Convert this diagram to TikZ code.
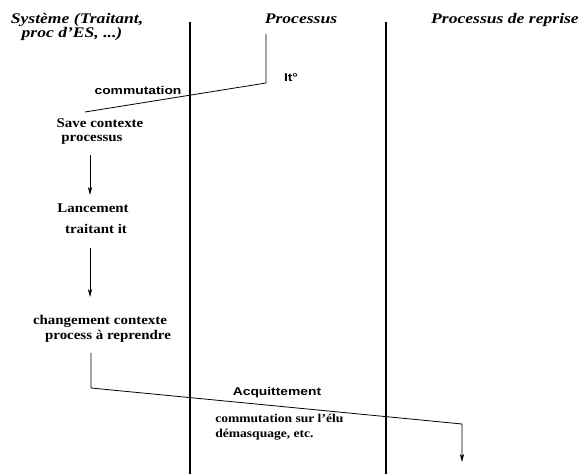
\documentclass[tikz,border=0pt]{standalone}
\usepackage{fontspec}
\setmainfont{Liberation Serif}
\setsansfont{Liberation Sans}
\usetikzlibrary{arrows.meta}

\begin{document}
\begin{tikzpicture}[x=0.75pt, y=-0.75pt,
    titre/.style={font=\bfseries\itshape\fontsize{11}{12}\selectfont, anchor=base, inner sep=0pt, xscale=1.2, transform shape},
    etape/.style={font=\bfseries\fontsize{10}{11}\selectfont, anchor=base, inner sep=0pt, xscale=1.12, transform shape},
    note/.style={font=\bfseries\fontsize{9}{10}\selectfont, anchor=base west, inner sep=0pt, xscale=1.13, transform shape},
    signal/.style={font=\sffamily\bfseries\fontsize{8.5}{10}\selectfont, anchor=base, inner sep=0pt, xscale=1.22, transform shape},
    ligne/.style={line width=2.2pt},
    fil/.style={line width=0.6pt},
    fleche/.style={fil, -{Stealth[length=6pt, width=3.2pt, inset=1.5pt]}}]
      \useasboundingbox (0,0) rectangle (583,474);

      \node[titre] (sys1) at (77,24) {Système (Traitant,};
      \node[titre] (sys2) at (72,38) {proc d'ES, ...)};
      \node[titre] (proc) at (301,24) {Processus};
      \node[titre] (rep) at (505,24) {Processus de reprise};

      \coordinate (l1h) at (190,22);
      \coordinate (l1b) at (190,474);
      \coordinate (l2h) at (386,22);
      \coordinate (l2b) at (386,474);
      \draw[ligne] (l1h) -- (l1b);
      \draw[ligne] (l2h) -- (l2b);

      \node[signal] (it) at (291,82) {It°};
      \node[signal] (commut) at (138,95) {commutation};
      \coordinate (ita) at (266,34);
      \coordinate (itb) at (266,83);
      \coordinate (itc) at (85,112);
      \draw[fil] (ita) -- (itb) -- (itc);

      \node[etape] (save1) at (100,128) {Save contexte};
      \node[etape] (save2) at (92,142) {processus};
      \node[etape] (lanc1) at (93,213) {Lancement};
      \node[etape] (lanc2) at (96,234) {traitant it};
      \node[etape] (chg1) at (100,325) {changement contexte};
      \node[etape] (chg2) at (108,340) {process à reprendre};

      \coordinate (f1a) at (90,155);
      \coordinate (f1b) at (90,195);
      \coordinate (f2a) at (90,248);
      \coordinate (f2b) at (90,297);
      \draw[fleche] (f1a) -- (f1b);
      \draw[fleche] (f2a) -- (f2b);

      \node[signal] (acq) at (277,396) {Acquittement};
      \node[note] (elu1) at (215,423) {commutation sur l'élu};
      \node[note] (elu2) at (215,438) {démasquage, etc.};
      \coordinate (aa) at (91,353);
      \coordinate (ab) at (91,388);
      \coordinate (ac) at (462,424);
      \coordinate (ad) at (462,462);
      \draw[fleche] (aa) -- (ab) -- (ac) -- (ad);
\end{tikzpicture}
\end{document}
